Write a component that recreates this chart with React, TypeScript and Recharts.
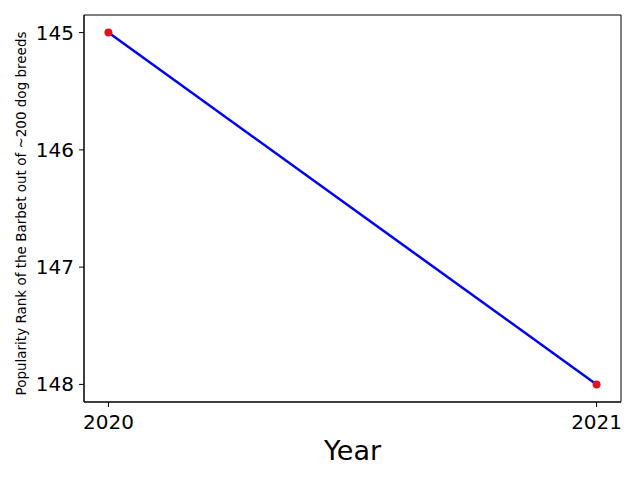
import React from 'react';
import { LineChart, Line, XAxis, YAxis, ReferenceArea } from 'recharts';

// Barbet popularity rank by year
const years = [2020, 2021];
const ranks = [145, 148];
const yTicks = [145, 146, 147, 148];
const xTicks = [2020, 2021];
const xDomain = [2019.95, 2021.05];
const yDomain = [144.85, 148.15];

const data = years.map((year, i) => ({ year, rank: ranks[i] }));

const FONT = '"DejaVu Sans", sans-serif';

const YTick = (props: any) => {
  const { x, y, payload } = props;
  return (
    <text x={x} y={y} dy={7} textAnchor="end" fontSize={20} fontFamily={FONT} fill="#000">
      {payload.value}
    </text>
  );
};

const XTick = (props: any) => {
  const { x, y, payload } = props;
  return (
    <text x={x} y={y} dy={17} textAnchor="middle" fontSize={20} fontFamily={FONT} fill="#000">
      {payload.value}
    </text>
  );
};

const YLabel = (props: any) => {
  const vb = props.viewBox || {};
  const cx = vb.x + 21;
  const cy = vb.y + vb.height / 2 + 5;
  return (
    <text
      x={cx}
      y={cy}
      transform={`rotate(-90 ${cx} ${cy})`}
      textAnchor="middle"
      dominantBaseline="central"
      fontSize={13.5}
      fontFamily={FONT}
      fill="#000"
    >
      Popularity Rank of the Barbet out of ~200 dog breeds
    </text>
  );
};

const XLabel = (props: any) => {
  const vb = props.viewBox || {};
  return (
    <text x={vb.x + vb.width / 2} y={vb.y + 58} textAnchor="middle" fontSize={27} fontFamily={FONT} fill="#000">
      Year
    </text>
  );
};

export default function App() {
  return (
    <div style={{ margin: -8, width: 640, height: 480, background: '#fff' }}>
      <LineChart
        width={640}
        height={480}
        data={data}
        margin={{ top: 15, right: 19, bottom: 0, left: 0 }}
      >
        <XAxis
          dataKey="year"
          type="number"
          domain={xDomain}
          ticks={xTicks}
          height={78}
          stroke="#000"
          tickSize={5}
          tickMargin={5}
          tick={<XTick />}
          label={<XLabel />}
        />
        <YAxis
          dataKey="rank"
          type="number"
          reversed
          domain={yDomain}
          ticks={yTicks}
          width={84}
          stroke="#000"
          tickSize={5}
          tickMargin={5}
          tick={<YTick />}
          label={<YLabel />}
        />
        <ReferenceArea
          x1={xDomain[0]}
          x2={xDomain[1]}
          y1={yDomain[0]}
          y2={yDomain[1]}
          fill="none"
          stroke="#000"
          strokeWidth={1}
          ifOverflow="visible"
        />
        {/* markers first so the blue line sits over them */}
        <Line
          type="linear"
          dataKey="rank"
          stroke="none"
          dot={{ r: 4, fill: '#e0141e', stroke: 'none' }}
          activeDot={false}
          isAnimationActive={false}
        />
        <Line
          type="linear"
          dataKey="rank"
          stroke="#0000ee"
          strokeWidth={2.5}
          dot={false}
          activeDot={false}
          isAnimationActive={false}
        />
      </LineChart>
    </div>
  );
}
